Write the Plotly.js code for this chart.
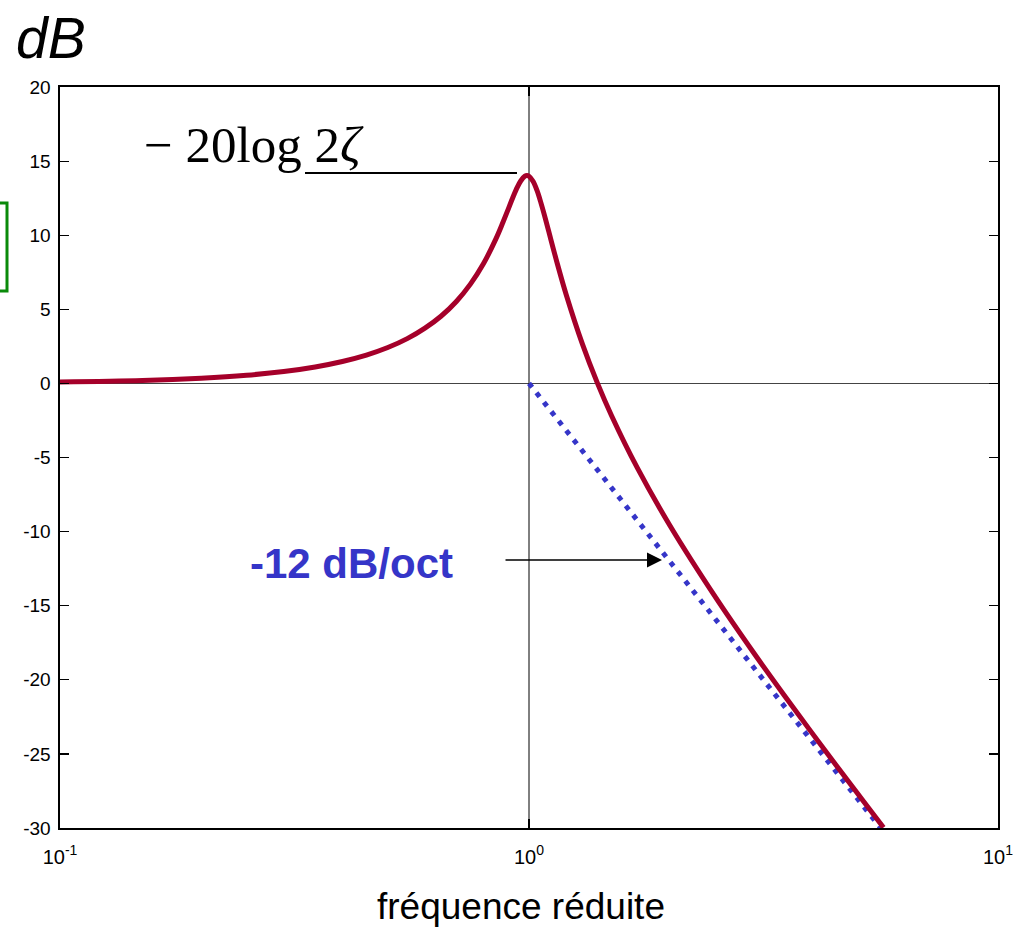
<!DOCTYPE html>
<html>
<head>
<meta charset="utf-8">
<script src="https://cdn.plot.ly/plotly-3.0.1.min.js"></script>
<style>html,body{margin:0;padding:0;background:#fff;}#chart{width:1023px;height:927px;}</style>
</head>
<body>
<div id="chart"></div>
<script>
// Reduced frequency and magnitude (dB)
const freq = [0.1, 0.15, 0.2, 0.25, 0.3, 0.35, 0.4, 0.45, 0.5, 0.55, 0.6, 0.65, 0.7, 0.75, 0.8, 0.85, 0.88, 0.9, 0.92, 0.94, 0.96, 0.98, 0.99, 1.0, 1.02, 1.04, 1.06, 1.08, 1.1, 1.15, 1.2, 1.3, 1.4, 1.5, 1.7, 2.0, 2.5, 3.0, 3.5, 4.0, 4.5, 5.0, 5.5, 5.7];
const gainDb = [0.09, 0.19, 0.35, 0.55, 0.80, 1.11, 1.48, 1.91, 2.42, 3.02, 3.73, 4.55, 5.53, 6.70, 8.09, 9.75, 10.87, 11.64, 12.41, 13.11, 13.66, 13.98, 14.02, 13.98, 13.64, 13.02, 12.20, 11.29, 10.34, 8.04, 6.00, 2.65, 0.0, -2.18, -5.67, -9.62, -14.44, -18.09, -21.04, -23.53, -25.70, -27.61, -29.33, -29.97];
// Asymptote -12 dB/oct
const asymFreq = [1.0, 5.62];
const asymDb = [0, -30];
// Vertical reference at reduced frequency 1
const refFreq = [1, 1];
const refDb = [-30, 20];
// Tick labels
const xTickVals = [0.1, 1, 10];
const xTickText = ['10<sup>-1</sup>', '10<sup>0</sup>', '10<sup>1</sup>'];
const yTickVals = [-30, -25, -20, -15, -10, -5, 0, 5, 10, 15, 20];
const yTickText = ['-30', '-25', '-20', '-15', '-10', '-5', '0', '5', '10', '15', '20'];

const traces = [
  {x: refFreq, y: refDb, mode: 'lines', line: {color: '#000', width: 1}, hoverinfo: 'skip', showlegend: false},
  {x: asymFreq, y: asymDb, mode: 'lines', line: {color: '#3535c8', width: 5, dash: '5px,7px'}, showlegend: false},
  {x: freq, y: gainDb, mode: 'lines', line: {color: '#a5002a', width: 5, shape: 'spline'}, showlegend: false}
];

const sans = 'Liberation Sans, Arial, sans-serif';

const layout = {
  width: 1023, height: 927,
  margin: {l: 60, r: 25, t: 87, b: 99},
  paper_bgcolor: '#fff', plot_bgcolor: '#fff',
  showlegend: false,
  xaxis: {
    type: 'log', range: [-1, 1],
    tickvals: xTickVals, ticktext: xTickText,
    ticks: 'inside', ticklen: 9, tickwidth: 1.2, tickcolor: '#000',
    showline: true, linecolor: '#000', linewidth: 1.6, mirror: 'ticks',
    showgrid: false, zeroline: false,
    tickfont: {family: sans, size: 20, color: '#000'}, ticklabelstandoff: 10
  },
  yaxis: {
    range: [-30, 20],
    tickvals: yTickVals, ticktext: yTickText,
    ticks: 'inside', ticklen: 9, tickwidth: 1.2, tickcolor: '#000',
    showline: true, linecolor: '#000', linewidth: 1.6, mirror: 'ticks',
    showgrid: false,
    zeroline: true, zerolinecolor: '#444', zerolinewidth: 1.3,
    tickfont: {family: sans, size: 19, color: '#000'}, ticklabelstandoff: 4
  },
  shapes: [
    {type: 'line', xref: 'paper', yref: 'paper', x0: 0.2612, x1: 0.4872, y0: 0.8839, y1: 0.8839, line: {color: '#000', width: 2}},
    {type: 'rect', xref: 'paper', yref: 'paper', x0: -0.1, x1: -0.0565, y0: 0.7247, y1: 0.8434, line: {color: '#0a8a0a', width: 3}}
  ],
  annotations: [
    {xref: 'paper', yref: 'paper', x: -0.0096, y: 1.0661, text: '<i>dB</i>', showarrow: false,
     font: {family: sans, size: 57, color: '#000'}, xanchor: 'center', yanchor: 'middle'},
    {xref: 'paper', yref: 'paper', x: 0.2068, y: 0.922, text: '\u2212 20log 2<i>\u03B6</i>', showarrow: false,
     font: {family: 'Liberation Serif, Times New Roman, serif', size: 51, color: '#000'}, xanchor: 'center', yanchor: 'middle'},
    {xref: 'paper', yref: 'paper', x: 0.3113, y: 0.3576, text: '<b>-12 dB/oct</b>', showarrow: false,
     font: {family: sans, size: 42, color: '#3535c8'}, xanchor: 'center', yanchor: 'middle'},
    {xref: 'paper', yref: 'paper', x: 0.6418, y: 0.3617, text: '', showarrow: true,
     ax: -158, ay: 0, arrowhead: 2, arrowsize: 2, arrowwidth: 1.5, arrowcolor: '#000', standoff: 0},
    {xref: 'paper', yref: 'paper', x: 0.4915, y: -0.1053, text: 'fréquence réduite', showarrow: false,
     font: {family: sans, size: 37, color: '#000'}, xanchor: 'center', yanchor: 'middle'}
  ]
};

Plotly.newPlot('chart', traces, layout, {displayModeBar: false, staticPlot: true});
</script>
</body>
</html>
